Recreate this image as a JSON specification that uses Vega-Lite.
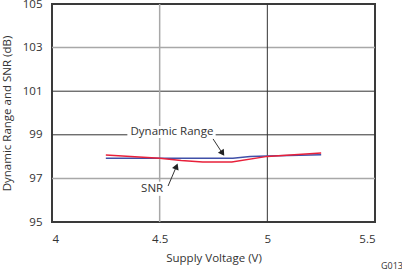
{
  "$schema": "https://vega.github.io/schema/vega-lite/v6.json",
  "width": 323,
  "height": 218,
  "autosize": "none",
  "padding": {"left": 52, "top": 4, "right": 27, "bottom": 49},
  "background": "white",
  "config": {
    "view": {"stroke": "#3a3a3a", "strokeWidth": 2},
    "font": "Open Sans",
    "scale": {"zero": false},
    "axis": {"grid": false, "domain": false, "ticks": false, "labelFont": "Open Sans", "titleFont": "Open Sans", "labelFontSize": 11.5, "titleFontSize": 11.5, "labelColor": "#333", "titleColor": "#333", "titleFontWeight": "normal"}
  },
  "datasets": {
    "series": [
      {"v": 4.25, "db": 97.93, "s": "Dynamic Range"},
      {"v": 4.5, "db": 97.92, "s": "Dynamic Range"},
      {"v": 4.84, "db": 97.93, "s": "Dynamic Range"},
      {"v": 4.92, "db": 98.0, "s": "Dynamic Range"},
      {"v": 5.0, "db": 98.03, "s": "Dynamic Range"},
      {"v": 5.25, "db": 98.08, "s": "Dynamic Range"},
      {"v": 4.25, "db": 98.07, "s": "SNR"},
      {"v": 4.5, "db": 97.92, "s": "SNR"},
      {"v": 4.6, "db": 97.82, "s": "SNR"},
      {"v": 4.7, "db": 97.75, "s": "SNR"},
      {"v": 4.835, "db": 97.75, "s": "SNR"},
      {"v": 5.0, "db": 98.01, "s": "SNR"},
      {"v": 5.25, "db": 98.16, "s": "SNR"}
    ]
  },
  "layer": [
    {
      "data": {"values": [{"y": 97}, {"y": 103}]},
      "mark": {"type": "rule", "color": "#a8a8a8", "strokeWidth": 1.5},
      "encoding": {"y": {"field": "y", "type": "quantitative", "scale": {"domain": [95, 105]}}}
    },
    {
      "data": {"values": [{"y": 99}, {"y": 101}]},
      "mark": {"type": "rule", "color": "#333333", "strokeWidth": 1},
      "encoding": {"y": {"field": "y", "type": "quantitative", "scale": {"domain": [95, 105]}}}
    },
    {
      "data": {"values": [{"x": 4.5}]},
      "mark": {"type": "rule", "color": "#a8a8a8", "strokeWidth": 1.5},
      "encoding": {"x": {"field": "x", "type": "quantitative", "scale": {"domain": [4, 5.5]}}}
    },
    {
      "data": {"values": [{"x": 5}]},
      "mark": {"type": "rule", "color": "#333333", "strokeWidth": 1},
      "encoding": {"x": {"field": "x", "type": "quantitative", "scale": {"domain": [4, 5.5]}}}
    },
    {
      "data": {"values": [{"x1": 4.35, "x2": 4.76, "y1": 98.85, "y2": 99.4}, {"x1": 4.42, "x2": 4.52, "y1": 96.2, "y2": 96.85}]},
      "mark": {"type": "rect", "color": "white"},
      "encoding": {
        "x": {"field": "x1", "type": "quantitative", "scale": {"domain": [4, 5.5]}},
        "x2": {"field": "x2"},
        "y": {"field": "y1", "type": "quantitative", "scale": {"domain": [95, 105]}},
        "y2": {"field": "y2"}
      }
    },
    {
      "data": {"name": "series"},
      "mark": {"type": "line", "strokeWidth": 1.5},
      "encoding": {
        "x": {"field": "v", "type": "quantitative", "scale": {"domain": [4, 5.5]}, "axis": {"values": [4, 4.5, 5, 5.5], "title": "Supply Voltage (V)", "labelPadding": 11, "titlePadding": 8, "format": "~g"}},
        "y": {"field": "db", "type": "quantitative", "scale": {"domain": [95, 105]}, "axis": {"values": [95, 97, 99, 101, 103, 105], "title": "Dynamic Range and SNR (dB)", "labelPadding": 10, "titlePadding": 10}},
        "color": {"field": "s", "type": "nominal", "scale": {"domain": ["Dynamic Range", "SNR"], "range": ["#4050a8", "#e8203a"]}, "legend": null},
        "order": {"field": "v", "type": "quantitative"}
      }
    },
    {
      "data": {"values": [{"t": "Dynamic Range", "x": 4.557, "y": 99.12}, {"t": "SNR", "x": 4.465, "y": 96.5}]},
      "mark": {"type": "text", "fontSize": 11.5, "color": "#333", "baseline": "middle", "align": "center", "font": "Open Sans"},
      "encoding": {
        "x": {"field": "x", "type": "quantitative", "scale": {"domain": [4, 5.5]}},
        "y": {"field": "y", "type": "quantitative", "scale": {"domain": [95, 105]}},
        "text": {"field": "t"}
      }
    },
    {
      "data": {"values": [{"x": 4.748, "y": 98.81}, {"x": 4.795, "y": 98.1}]},
      "mark": {"type": "line", "color": "#333", "strokeWidth": 1},
      "encoding": {"x": {"field": "x", "type": "quantitative", "scale": {"domain": [4, 5.5]}}, "y": {"field": "y", "type": "quantitative", "scale": {"domain": [95, 105]}}}
    },
    {
      "data": {"values": [{"x": 4.792, "y": 98.15}]},
      "mark": {"type": "point", "shape": "triangle-up", "filled": true, "color": "#222", "size": 50, "angle": 146, "opacity": 1},
      "encoding": {"x": {"field": "x", "type": "quantitative", "scale": {"domain": [4, 5.5]}}, "y": {"field": "y", "type": "quantitative", "scale": {"domain": [95, 105]}}}
    },
    {
      "data": {"values": [{"x": 4.539, "y": 96.65}, {"x": 4.58, "y": 97.6}]},
      "mark": {"type": "line", "color": "#333", "strokeWidth": 1},
      "encoding": {"x": {"field": "x", "type": "quantitative", "scale": {"domain": [4, 5.5]}}, "y": {"field": "y", "type": "quantitative", "scale": {"domain": [95, 105]}}}
    },
    {
      "data": {"values": [{"x": 4.578, "y": 97.55}]},
      "mark": {"type": "point", "shape": "triangle-up", "filled": true, "color": "#222", "size": 50, "angle": 22, "opacity": 1},
      "encoding": {"x": {"field": "x", "type": "quantitative", "scale": {"domain": [4, 5.5]}}, "y": {"field": "y", "type": "quantitative", "scale": {"domain": [95, 105]}}}
    },
    {
      "data": {"values": [{"t": "G013", "x": 5.5, "y": 95}]},
      "mark": {"type": "text", "fontSize": 9, "color": "#333", "align": "left", "baseline": "top", "dx": 6, "dy": 40},
      "encoding": {
        "x": {"field": "x", "type": "quantitative", "scale": {"domain": [4, 5.5]}},
        "y": {"field": "y", "type": "quantitative", "scale": {"domain": [95, 105]}},
        "text": {"field": "t"}
      }
    }
  ]
}
